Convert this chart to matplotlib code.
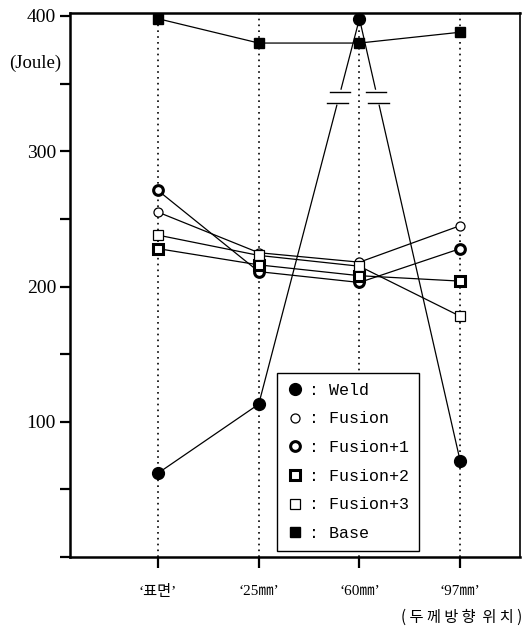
import numpy as np
import matplotlib.pyplot as plt

plt.rcParams['font.family'] = ['Liberation Serif', 'Noto Sans CJK KR', 'DejaVu Sans']

positions = ['‘표면’', '‘25㎜’', '‘60㎜’', '‘97㎜’']
weld = [62, 113, 398, 71]
fusion = [255, 225, 218, 245]
fusion1 = [271, 211, 203, 228]
fusion2 = [228, 216, 208, 204]
fusion3 = [238, 223, 215, 178]
base = [398, 380, 380, 388]

series = [
    (': Weld', weld, dict(marker='o', ms=8.5, mfc='k', mec='k')),
    (': Fusion', fusion, dict(marker='o', ms=6.5, mfc='w', mec='k', mew=0.9)),
    (': Fusion+1', fusion1, dict(marker='o', ms=7, mfc='w', mec='k', mew=2.2)),
    (': Fusion+2', fusion2, dict(marker='s', ms=7, mfc='w', mec='k', mew=2.2)),
    (': Fusion+3', fusion3, dict(marker='s', ms=7, mfc='w', mec='k', mew=0.9)),
    (': Base', base, dict(marker='s', ms=7.5, mfc='k', mec='k')),
]

fig = plt.figure(figsize=(5.26, 6.33), dpi=100)
ax = fig.add_axes([0.133, 0.12, 0.856, 0.859])
x = np.arange(len(positions))

ax.vlines(x, 0, 402, colors='k', linestyles=(0, (1, 2.5)), lw=1.2, zorder=1)

for label, vals, style in series:
    ax.plot(x, vals, '-', color='k', lw=0.9, zorder=2)
    ax.plot(x, vals, ls='none', label=label, zorder=3, clip_on=False, **style)

# axis-break marks on the steep weld segments
for i0, i1 in [(1, 2), (2, 3)]:
    ys = np.array([336, 344])
    seg_y = [weld[i0], weld[i1]]
    seg_x = [x[i0], x[i1]]
    order = np.argsort(seg_y)
    xs = np.interp(ys, np.array(seg_y)[order], np.array(seg_x)[order])
    ax.plot(xs, ys, color='w', lw=3, zorder=2.5)
    for xb, yb in zip(xs, ys):
        ax.plot([xb - 0.1, xb + 0.1], [yb, yb], color='k', lw=1, zorder=2.6)

ax.set_xlim(-0.874, 3.596)
ax.set_ylim(0, 402)
ax.set_yticks([0, 50, 100, 150, 200, 250, 300, 350, 400])
ax.set_yticklabels(['', '', '100', '', '200', '', '300', '', '400'], fontsize=14)
ax.set_xticks(x)
ax.set_xticklabels(positions, fontsize=11)
ax.tick_params(axis='y', direction='out', length=7, width=1.6, pad=3)
ax.tick_params(axis='x', direction='out', length=8, width=1.6, pad=12)
for side in ['left', 'bottom', 'top']:
    ax.spines[side].set_linewidth(1.8)
ax.spines['right'].set_linewidth(1.2)

ax.text(-0.078, 0.908, '(Joule)', transform=ax.transAxes, fontsize=13.5,
        ha='center', va='center')
fig.text(0.992, 0.025, '( 두 께 방 향  위 치 )', fontsize=11, ha='right', va='center',
         family=['Noto Sans CJK KR'])

leg = ax.legend(loc='lower left', bbox_to_anchor=(0.46, 0.011), frameon=True,
                fancybox=False, edgecolor='k', framealpha=1, numpoints=1,
                handlelength=1.0, handletextpad=0.3, labelspacing=0.82,
                borderpad=0.6, borderaxespad=0,
                prop={'family': 'Liberation Mono', 'size': 12})
leg.get_frame().set_linewidth(1.0)

fig.savefig('out.png', dpi=100)
